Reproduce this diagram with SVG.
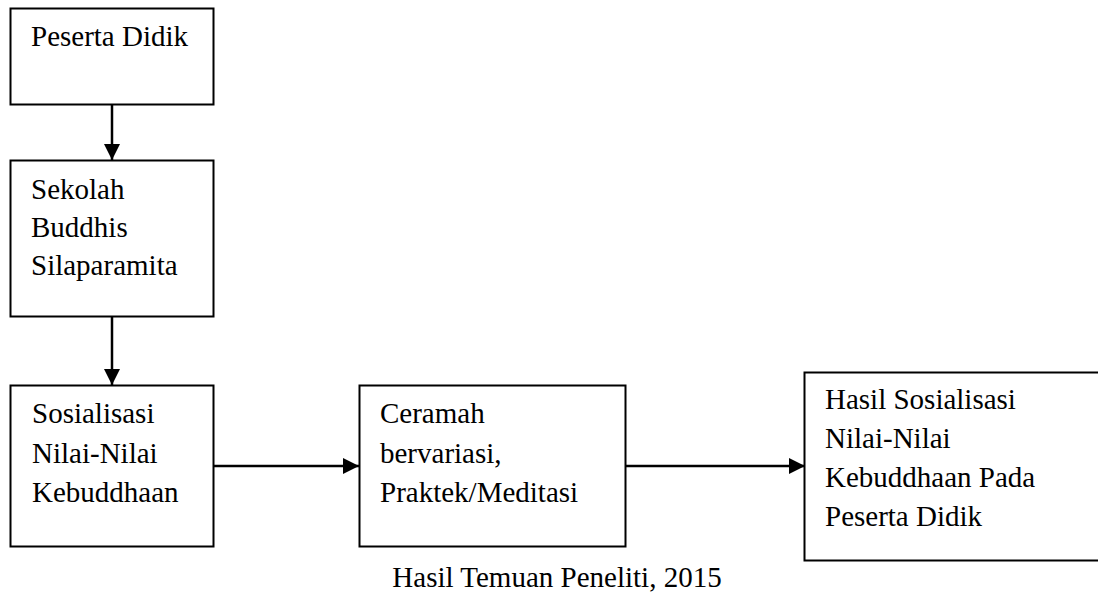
<svg xmlns="http://www.w3.org/2000/svg" width="1098" height="592" viewBox="0 0 1098 592">
  <defs>
    <style>
      .box { fill: #ffffff; stroke: #000000; stroke-width: 2; }
      .lbl { font-family: 'Liberation Serif', 'Times New Roman', Times, serif; font-size: 29px; fill: #000000; }
      .link { stroke: #000000; stroke-width: 2.5; fill: none; }
    </style>
    <marker id="arrow" viewBox="0 0 10 10" refX="10" refY="5" markerUnits="userSpaceOnUse" markerWidth="16" markerHeight="16" orient="auto">
      <path d="M0,0 L10,5 L0,10 Z" fill="#000000"/>
    </marker>
  </defs>
  <rect width="1098" height="592" fill="#ffffff"/>

  <!-- flow arrows between the boxes -->
  <g id="connectors">
    <line class="link" x1="112" y1="104" x2="112" y2="160" marker-end="url(#arrow)"/>
    <line class="link" x1="112" y1="316" x2="112" y2="385" marker-end="url(#arrow)"/>
    <line class="link" x1="213" y1="466" x2="359" y2="466" marker-end="url(#arrow)"/>
    <line class="link" x1="625" y1="466" x2="805" y2="466" marker-end="url(#arrow)"/>
  </g>

  <g id="peserta-didik">
    <rect class="box" x="10.5" y="8.5" width="203" height="96"/>
    <text class="lbl" x="31" y="46">Peserta Didik</text>
  </g>

  <g id="sekolah-buddhis">
    <rect class="box" x="10.5" y="160.5" width="203" height="156"/>
    <text class="lbl" x="31" y="199">Sekolah</text>
    <text class="lbl" x="31" y="237">Buddhis</text>
    <text class="lbl" x="31" y="275">Silaparamita</text>
  </g>

  <g id="sosialisasi">
    <rect class="box" x="10.5" y="385.5" width="203" height="161"/>
    <text class="lbl" x="32" y="423">Sosialisasi</text>
    <text class="lbl" x="32" y="463">Nilai-Nilai</text>
    <text class="lbl" x="32" y="502">Kebuddhaan</text>
  </g>

  <g id="metode">
    <rect class="box" x="359.5" y="385.5" width="266" height="161"/>
    <text class="lbl" x="380" y="423">Ceramah</text>
    <text class="lbl" x="380" y="463">bervariasi,</text>
    <text class="lbl" x="380" y="502">Praktek/Meditasi</text>
  </g>

  <g id="hasil-sosialisasi">
    <rect class="box" x="804.5" y="372.5" width="300" height="188"/>
    <text class="lbl" x="825" y="409">Hasil Sosialisasi</text>
    <text class="lbl" x="825" y="448">Nilai-Nilai</text>
    <text class="lbl" x="825" y="487">Kebuddhaan Pada</text>
    <text class="lbl" x="825" y="526">Peserta Didik</text>
  </g>

  <text class="lbl" x="557" y="587" text-anchor="middle">Hasil Temuan Peneliti, 2015</text>
</svg>
